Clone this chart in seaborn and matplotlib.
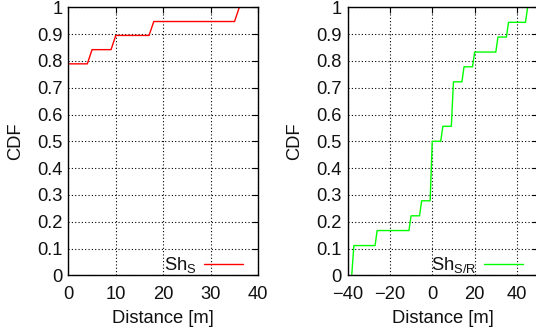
"""
两个 CDF 子图 (Sh_S 与 Sh_S/R)
"""
import numpy as np
import pandas as pd
import matplotlib
matplotlib.use('Agg')
import matplotlib.pyplot as plt
import seaborn as sns

# 数据: 距离 [m] 与累计概率
dist_s = [0, 4, 5, 9, 10, 17, 18, 35, 36, 40]
cdf_s = [0.789, 0.789, 0.842, 0.842, 0.895, 0.895, 0.947, 0.947, 1.0, 1.0]

dist_sr = [-38, -37, -27, -26, -11, -10, -6, -5, -1, 0, 4, 5, 9, 10,
           14, 15, 19, 20, 30, 31, 35, 36, 44, 45]
cdf_sr = [0.0, 0.111, 0.111, 0.167, 0.167, 0.222, 0.222, 0.278, 0.278, 0.5,
          0.5, 0.556, 0.556, 0.722, 0.722, 0.778, 0.778, 0.833, 0.833, 0.889,
          0.889, 0.944, 0.944, 1.0]

y_ticks = [0, 0.1, 0.2, 0.3, 0.4, 0.5, 0.6, 0.7, 0.8, 0.9, 1]
y_tick_labels = ['0', '0.1', '0.2', '0.3', '0.4', '0.5', '0.6', '0.7', '0.8', '0.9', '1']
x_ticks_s = [0, 10, 20, 30, 40]
x_ticks_sr = [-40, -20, 0, 20, 40]

FS = 13.2

sns.set_style('white')
plt.rcParams['font.family'] = ['Liberation Sans', 'DejaVu Sans']
plt.rcParams['mathtext.fontset'] = 'custom'
plt.rcParams['mathtext.rm'] = 'Liberation Sans'
plt.rcParams['font.size'] = FS

W, H = 536, 331
fig = plt.figure(figsize=(W / 100, H / 100), dpi=100)

# 坐标轴位置 (像素换算)
ax1 = fig.add_axes([68.3 / W, 1 - 275.3 / H, 190 / W, 268 / H])
ax2 = fig.add_axes([347.5 / W, 1 - 275.3 / H, 190.7 / W, 268 / H])


def style_axis(ax, xlim, xticks):
    ax.set_xlim(*xlim)
    ax.set_ylim(0, 1)
    ax.set_xticks(xticks)
    ax.set_yticks(y_ticks)
    ax.set_yticklabels(y_tick_labels)
    ax.grid(True, color='black', linestyle=(0, (1, 2)), linewidth=0.8)
    ax.set_axisbelow(True)
    for sp in ax.spines.values():
        sp.set_visible(True)
        sp.set_color('black')
        sp.set_linewidth(1.0)
    ax.tick_params(direction='in', length=4, width=0.8, color='black',
                   top=True, right=True, labelsize=FS, labelcolor='#111111')
    ax.tick_params(axis='x', pad=7.5)
    ax.tick_params(axis='y', pad=4)
    ax.set_xlabel('Distance [m]', fontsize=FS, color='#111111')
    ax.set_ylabel('CDF', fontsize=FS, color='#111111')
    w = ax.get_position().width * W
    ax.yaxis.set_label_coords(-44 / w, 0.5)
    ax.xaxis.set_label_coords(0.5, -35 / 268)


df_s = pd.DataFrame({'dist': dist_s, 'cdf': cdf_s})
df_sr = pd.DataFrame({'dist': dist_sr, 'cdf': cdf_sr})

sns.lineplot(data=df_s, x='dist', y='cdf', ax=ax1, color='#ff0000',
             linewidth=1.0, sort=False, estimator=None, label=r'Sh$_\mathrm{S}$')
sns.lineplot(data=df_sr, x='dist', y='cdf', ax=ax2, color='#00ff00',
             linewidth=1.0, sort=False, estimator=None, label=r'Sh$_\mathrm{S/R}$')

style_axis(ax1, (0, 40), x_ticks_s)
style_axis(ax2, (-40, 50), x_ticks_sr)

for ax in (ax1, ax2):
    leg = ax.legend(loc='lower right', frameon=False, markerfirst=False,
                    handlelength=39 / (FS * 1.389), handletextpad=0.4,
                    borderpad=0, borderaxespad=0, fontsize=FS,
                    bbox_to_anchor=(0.92, 0.0))
    for t in leg.get_texts():
        t.set_color('#111111')

fig.savefig('out.png', dpi=100)
